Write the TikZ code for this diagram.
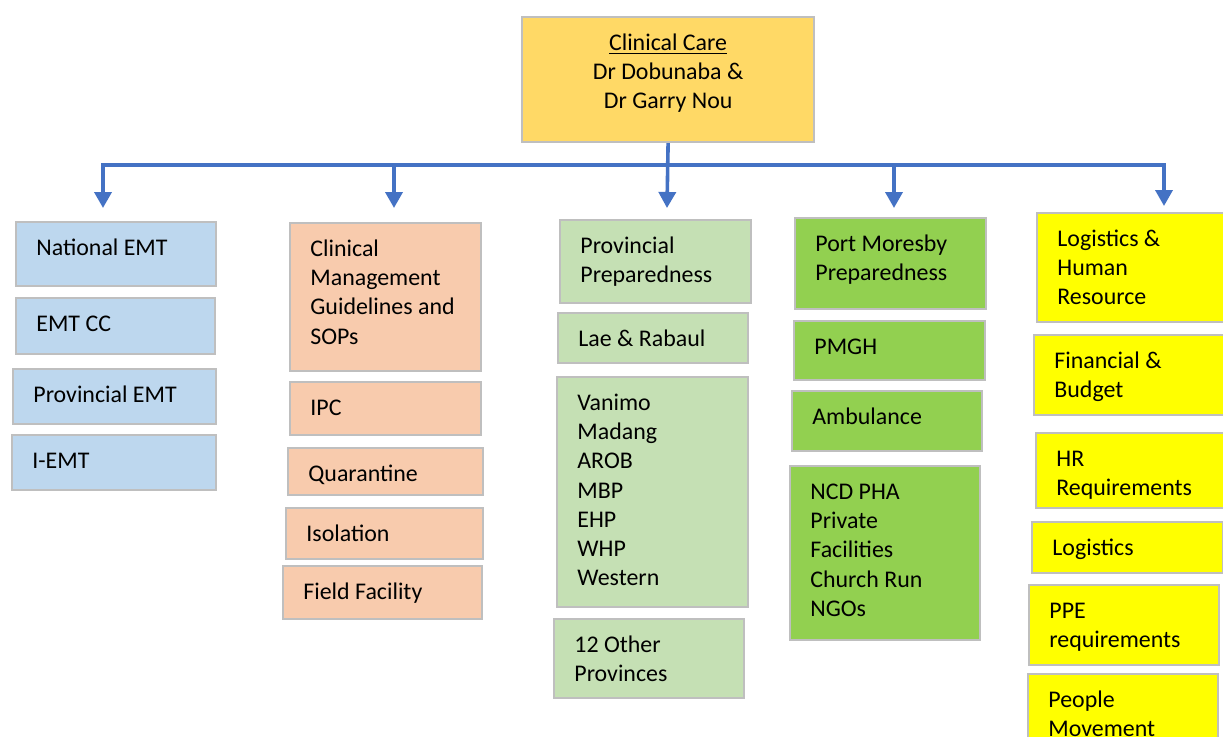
\documentclass[tikz,border=0pt]{standalone}
\usepackage{fontspec}
\setmainfont{Carlito}
\usetikzlibrary{arrows.meta}

\definecolor{headfill}{HTML}{FFD966}
\definecolor{emtblue}{HTML}{BDD7EE}
\definecolor{carepeach}{HTML}{F8CBAD}
\definecolor{provgreen}{HTML}{C5E0B4}
\definecolor{pomgreen}{HTML}{92D050}
\definecolor{logyellow}{HTML}{FFFF00}
\definecolor{boxline}{HTML}{BFBFBF}
\definecolor{linkblue}{HTML}{4472C4}

% one coloured box with its text set at the top left
\newcommand\card[7]{%
  \node[card, fill=#2, minimum width=#5*0.5pt, minimum height=#6*0.5pt] (#1) at (#3,#4) {};
  \node[cardtext] (#1-txt) at ([xshift=10.5pt, yshift=-6.8pt]#1.north west) {\strut #7};
}

\begin{document}
\begin{tikzpicture}[x=0.5pt, y=-0.5pt,
    font=\fontsize{11.95}{14.6}\selectfont,
    card/.style={draw=boxline, line width=1.1pt, rectangle, anchor=north west, inner sep=0pt},
    cardtext/.style={anchor=north west, inner sep=0pt, align=left},
    link/.style={draw=linkblue, line width=1.8pt},
    tip/.style={-{Triangle[width=8.5pt, length=8pt]}}]

    \clip (0,0) rectangle (1223,736);

    % Head box
    \node[card, fill=headfill, minimum width=146pt, minimum height=62.5pt] (head) at (521,16) {};
    \node[anchor=north, inner sep=0pt, align=center] (head-txt) at ([yshift=-6.8pt]head.north)
        {\strut\underline{Clinical Care}\\Dr Dobunaba \&\\Dr Garry Nou};

    % Arrow ends above each column
    \coordinate (bus) at (0,165);
    \coordinate (drop1) at (103,208);
    \coordinate (drop2) at (394,208);
    \coordinate (drop3) at (667,208);
    \coordinate (drop4) at (894,208);
    \coordinate (drop5) at (1164,206);

    \draw[link, {Triangle[width=8.5pt, length=8pt]}-{Triangle[width=8.5pt, length=8pt]}]
        (drop1) |- (drop5 |- bus) -- (drop5);
    \draw[link, tip] (head.south) -- (drop3);
    \draw[link, tip] (drop2 |- bus) -- (drop2);
    \draw[link, tip] (drop4 |- bus) -- (drop4);

    % Emergency medical teams
    \card{nemt}{emtblue}{15}{221}{200}{64}{National EMT}
    \card{emtcc}{emtblue}{15}{297}{199}{56}{EMT CC}
    \card{pemt}{emtblue}{12}{368}{203}{55}{Provincial EMT}
    \card{iemt}{emtblue}{11}{434}{204}{55}{I-EMT}

    % Guidelines and facilities
    \card{cmg}{carepeach}{289}{222}{191}{148}{Clinical\\Management\\Guidelines and\\SOPs}
    \card{ipc}{carepeach}{289}{381}{191}{53}{IPC}
    \card{quar}{carepeach}{287}{447}{195}{47}{Quarantine}
    \card{iso}{carepeach}{285}{507}{197}{51}{Isolation}
    \card{field}{carepeach}{282}{565}{199}{53}{Field Facility}

    % Provinces
    \card{pprep}{provgreen}{559}{219}{191}{83}{Provincial\\Preparedness}
    \card{lae}{provgreen}{557}{312}{190}{50}{Lae \& Rabaul}
    \card{prov}{provgreen}{556}{376}{191}{230}{Vanimo\\Madang\\AROB\\MBP\\EHP\\WHP\\Western}
    \card{other}{provgreen}{553}{618}{190}{79}{12 Other\\Provinces}

    % Port Moresby
    \card{pom}{pomgreen}{794}{217}{191}{91}{Port Moresby\\Preparedness}
    \card{pmgh}{pomgreen}{793}{320}{191}{59}{PMGH}
    \card{amb}{pomgreen}{791}{390}{190}{60}{Ambulance}
    \card{ncd}{pomgreen}{789}{465}{190}{174}{NCD PHA\\Private\\Facilities\\Church Run\\NGOs}

    % Logistics and resources
    \card{lhr}{logyellow}{1036}{212}{190}{109}{Logistics \&\\Human\\Resource}
    \card{fin}{logyellow}{1033}{334}{190}{80}{Financial \&\\Budget}
    \card{hr}{logyellow}{1035}{432}{190}{75}{HR\\Requirements}
    \card{logi}{logyellow}{1031}{521}{191}{51}{Logistics}
    \card{ppe}{logyellow}{1028}{584}{190}{80}{PPE\\requirements}
    \card{people}{logyellow}{1027}{673}{190}{80}{People\\Movement}

\end{tikzpicture}
\end{document}
